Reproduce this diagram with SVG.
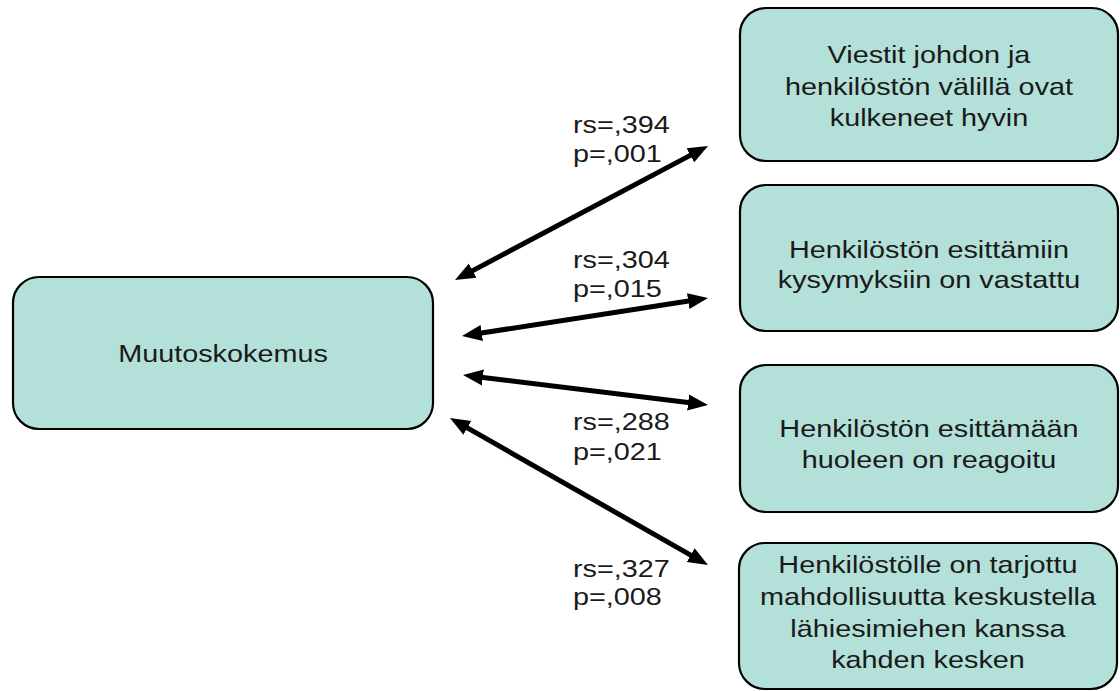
<svg xmlns="http://www.w3.org/2000/svg" width="1120" height="691" viewBox="0 0 1120 691">
<style>
.box{fill:#b3e0d9;stroke:#000;stroke-width:2.2}
.t{font-family:"Liberation Sans",Arial,sans-serif;font-size:24px;fill:#1a1a1a}
.c{text-anchor:middle}
.conn{stroke:#000;stroke-width:5;fill:none;marker-start:url(#ah);marker-end:url(#ah)}
</style>
<defs>
<marker id="ah" markerUnits="userSpaceOnUse" markerWidth="22" markerHeight="18" refX="2" refY="8" orient="auto-start-reverse" viewBox="0 0 22 16">
<path d="M0,0 L20,8 L0,16 z" fill="#000"/>
</marker>
</defs>
<rect width="1120" height="691" fill="#fff"/>
<g id="connectors">
<line class="conn" x1="470.9" y1="271.6" x2="692.1" y2="154.4"/>
<line class="conn" x1="479.8" y1="333.3" x2="690.2" y2="300.8"/>
<line class="conn" x1="480.9" y1="377.2" x2="690.1" y2="402.8"/>
<line class="conn" x1="465.6" y1="426.9" x2="692.4" y2="556.1"/>
</g>
<g id="labels">
<text class="t" transform="translate(573 0) scale(1.2 1)" y="133">rs=,394</text>
<text class="t" transform="translate(573 0) scale(1.2 1)" y="162">p=,001</text>
<text class="t" transform="translate(573 0) scale(1.2 1)" y="268">rs=,304</text>
<text class="t" transform="translate(573 0) scale(1.2 1)" y="297">p=,015</text>
<text class="t" transform="translate(573 0) scale(1.2 1)" y="430">rs=,288</text>
<text class="t" transform="translate(573 0) scale(1.2 1)" y="460">p=,021</text>
<text class="t" transform="translate(573 0) scale(1.2 1)" y="577">rs=,327</text>
<text class="t" transform="translate(573 0) scale(1.2 1)" y="605">p=,008</text>
</g>
<g id="muutoskokemus">
<rect class="box" x="13" y="277" width="420" height="152" rx="26"/>
<text class="t c" transform="translate(223 0) scale(1.2 1)" y="362">Muutoskokemus</text>
</g>
<g id="viestit">
<rect class="box" x="740" y="8" width="378" height="153" rx="26"/>
<text class="t c" transform="translate(929 0) scale(1.2 1)" y="63">Viestit johdon ja</text>
<text class="t c" transform="translate(929 0) scale(1.2 1)" y="95">henkilöstön välillä ovat</text>
<text class="t c" transform="translate(929 0) scale(1.2 1)" y="126">kulkeneet hyvin</text>
</g>
<g id="kysymykset">
<rect class="box" x="740" y="185" width="378" height="146" rx="26"/>
<text class="t c" transform="translate(929 0) scale(1.2 1)" y="258">Henkilöstön esittämiin</text>
<text class="t c" transform="translate(929 0) scale(1.2 1)" y="288">kysymyksiin on vastattu</text>
</g>
<g id="huoli">
<rect class="box" x="740" y="365" width="378" height="147" rx="26"/>
<text class="t c" transform="translate(929 0) scale(1.2 1)" y="437">Henkilöstön esittämään</text>
<text class="t c" transform="translate(929 0) scale(1.2 1)" y="468">huoleen on reagoitu</text>
</g>
<g id="keskustelu">
<rect class="box" x="739" y="543" width="378" height="146" rx="26"/>
<text class="t c" transform="translate(928 0) scale(1.2 1)" y="573">Henkilöstölle on tarjottu</text>
<text class="t c" transform="translate(928 0) scale(1.2 1)" y="605">mahdollisuutta keskustella</text>
<text class="t c" transform="translate(928 0) scale(1.2 1)" y="637">lähiesimiehen kanssa</text>
<text class="t c" transform="translate(928 0) scale(1.2 1)" y="668">kahden kesken</text>
</g>
</svg>
